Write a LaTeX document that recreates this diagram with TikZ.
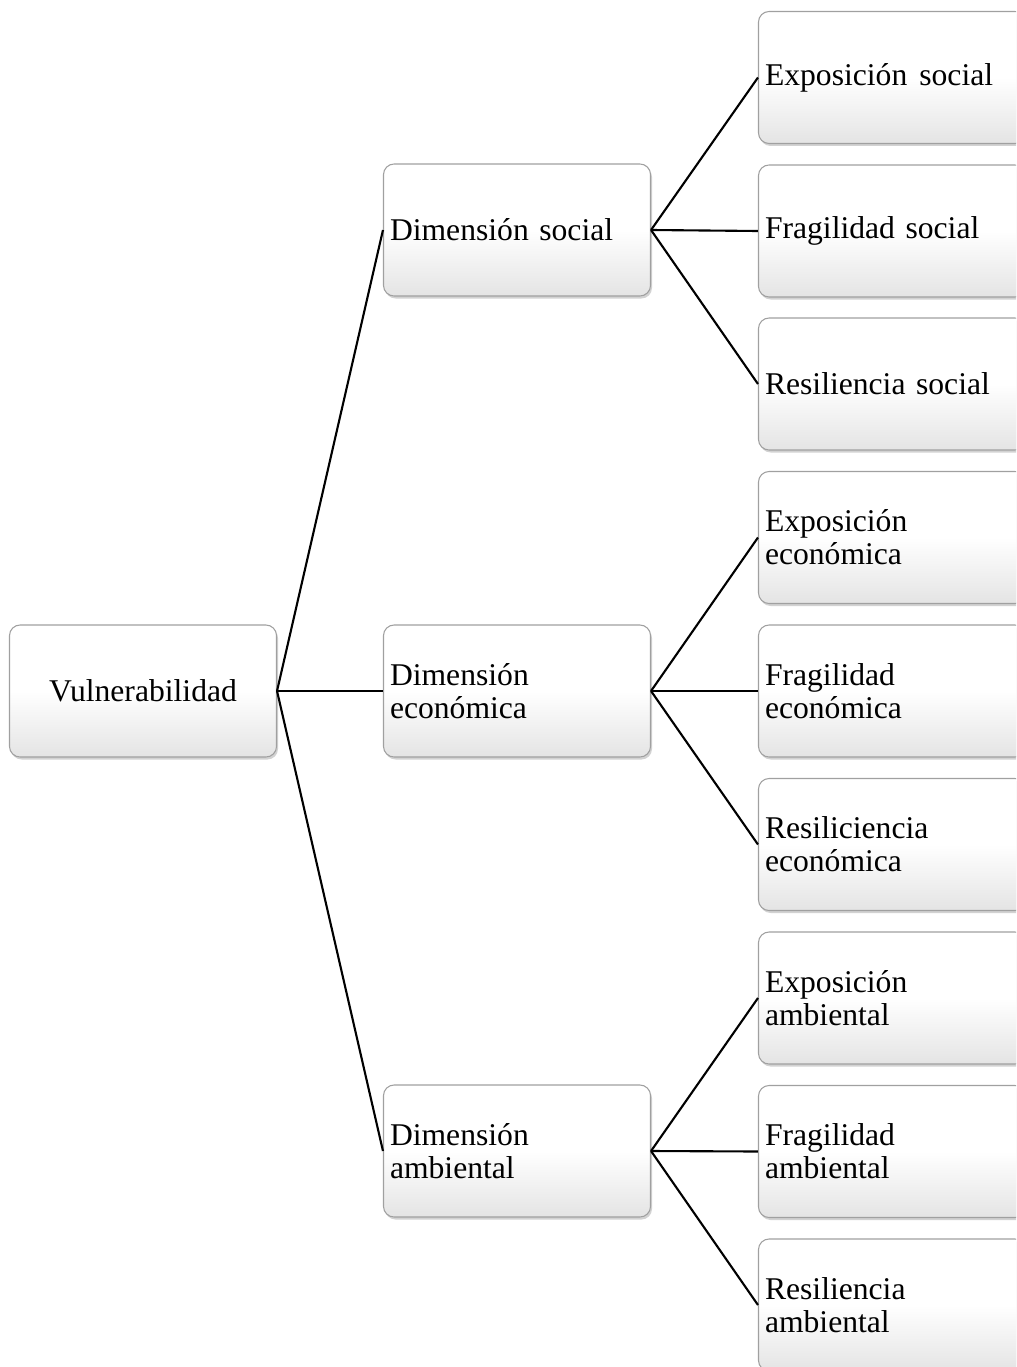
\documentclass[tikz,border=0pt]{standalone}
\usepackage{fontspec}
\setmainfont{Liberation Serif}
\usepackage{tikz}
\usetikzlibrary{positioning, shadows}
\definecolor{grisBord}{RGB}{160, 160, 160}
\definecolor{grisFond}{RGB}{228, 228, 228}
\definecolor{grisOmbre}{RGB}{165, 165, 165}

\begin{document}
\begin{tikzpicture}[
  bloc/.style={rectangle, draw=grisBord, rounded corners=6pt, line width=0.6pt,
    top color=white, bottom color=grisFond, middle color=white,
    drop shadow={shadow xshift=0.03cm, shadow yshift=-0.05cm, fill=grisOmbre},
    minimum width=5.34cm, minimum height=2.64cm, inner xsep=0.12cm,
    font=\fontsize{18}{18.8}\selectfont},
  feuille/.style={bloc, text width=5.08cm, align=left},
  lien/.style={line width=1.2pt, draw=black},
]
\useasboundingbox (0,0) rectangle (20.32,-27.34);
\begin{scope}
\clip (0,0) rectangle (20.32,-27.34);
% racine
\node[bloc, align=center] (vul) at (2.86,-13.82) {Vulnerabilidad};
% dimensiones
\node[feuille] (dsoc) at (10.34, -4.60) {Dimensión social};
\node[feuille] (deco) at (10.34,-13.82) {Dimensión\\económica};
\node[feuille] (damb) at (10.34,-23.02) {Dimensión\\ambiental};
% componentes
\node[feuille] (esoc) at (17.84, -1.55) {Exposición\hspace{0.38em}social};
\node[feuille] (fsoc) at (17.84, -4.62) {Fragilidad social};
\node[feuille] (rsoc) at (17.84, -7.68) {Resiliencia social};
\node[feuille] (eeco) at (17.84,-10.75) {Exposición\\económica};
\node[feuille] (feco) at (17.84,-13.82) {Fragilidad\\económica};
\node[feuille] (reco) at (17.84,-16.89) {Resiliciencia\\económica};
\node[feuille] (eamb) at (17.84,-19.96) {Exposición\\ambiental};
\node[feuille] (famb) at (17.84,-23.03) {Fragilidad\\ambiental};
\node[feuille] (ramb) at (17.84,-26.10) {Resiliencia\\ambiental};
% liens
\draw[lien] (vul.east) -- (dsoc.west);
\draw[lien] (vul.east) -- (deco.west);
\draw[lien] (vul.east) -- (damb.west);
\draw[lien] (dsoc.east) -- (esoc.west);
\draw[lien] (dsoc.east) -- (fsoc.west);
\draw[lien] (dsoc.east) -- (rsoc.west);
\draw[lien] (deco.east) -- (eeco.west);
\draw[lien] (deco.east) -- (feco.west);
\draw[lien] (deco.east) -- (reco.west);
\draw[lien] (damb.east) -- (eamb.west);
\draw[lien] (damb.east) -- (famb.west);
\draw[lien] (damb.east) -- (ramb.west);
\end{scope}
\end{tikzpicture}
\end{document}
